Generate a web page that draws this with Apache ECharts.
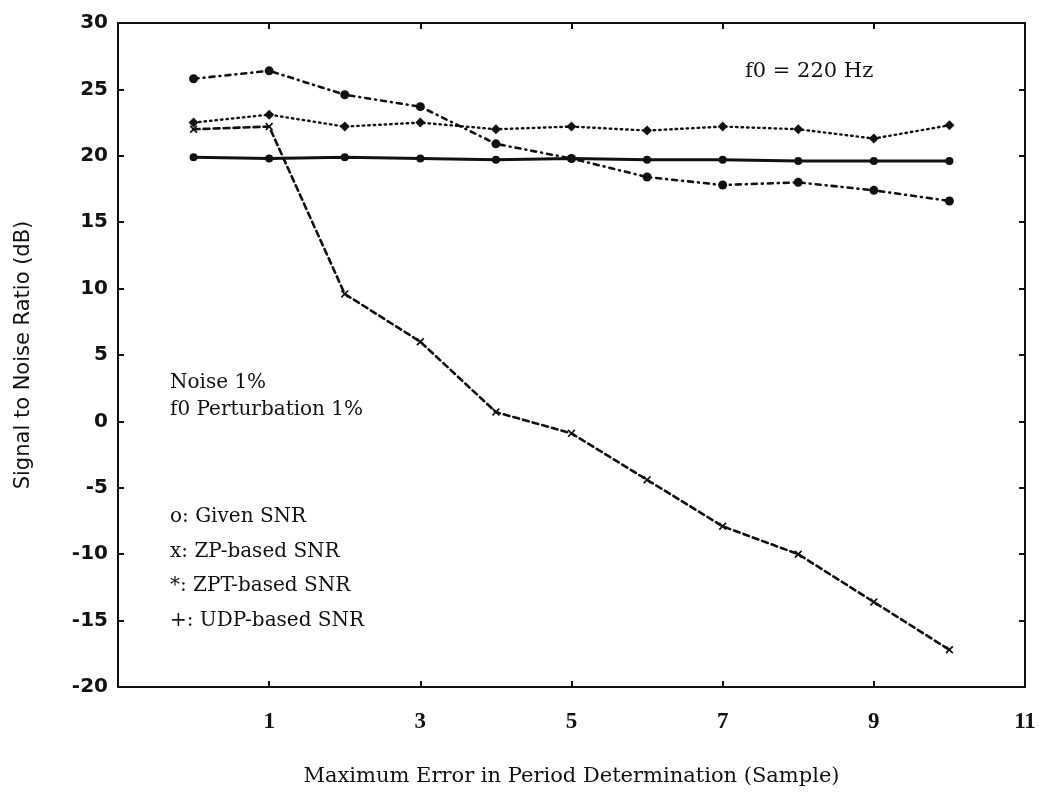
<!DOCTYPE html>
<html>
<head>
<meta charset="utf-8">
<script src="https://cdn.jsdelivr.net/npm/echarts@6/dist/echarts.min.js"></script>
<style>
  html, body { margin: 0; padding: 0; background: #fff; }
  #chart { width: 1039px; height: 792px; }
</style>
</head>
<body>
<div id="chart"></div>
<script>
// Maximum error in period determination (samples)
const errorSamples = [0, 1, 2, 3, 4, 5, 6, 7, 8, 9, 10];

// SNR estimates in dB
const givenSNR = [19.9, 19.8, 19.9, 19.8, 19.7, 19.8, 19.7, 19.7, 19.6, 19.6, 19.6];
const zpSNR    = [22.0, 22.2, 9.6, 6.0, 0.7, -0.9, -4.4, -7.9, -10.0, -13.6, -17.2];
const zptSNR   = [25.8, 26.4, 24.6, 23.7, 20.9, 19.8, 18.4, 17.8, 18.0, 17.4, 16.6];
const udpSNR   = [22.5, 23.1, 22.2, 22.5, 22.0, 22.2, 21.9, 22.2, 22.0, 21.3, 22.3];

// Axis ranges and tick spacing
const xRange = { min: -1, max: 11, interval: 2 };
const yRange = { min: -20, max: 30, interval: 5 };

// Annotation texts
const titleNote = 'f0 = 220 Hz';
const conditionNotes = ['Noise 1%', 'f0 Perturbation 1%'];
const keyNotes = ['o: Given SNR', 'x: ZP-based SNR', '*: ZPT-based SNR', '+: UDP-based SNR'];

const INK = '#111';
const pairs = ys => errorSamples.map((x, i) => [x, ys[i]]);
const crossPath = 'path://M0 1.5 L1.5 0 L5 3.5 L8.5 0 L10 1.5 L6.5 5 L10 8.5 L8.5 10 L5 6.5 L1.5 10 L0 8.5 L3.5 5 Z';

const chart = echarts.init(document.getElementById('chart'), null, { renderer: 'canvas' });

const serif = '"DejaVu Serif", "Liberation Serif", serif';
const sans = '"DejaVu Sans", "Open Sans", sans-serif';

const frameAxis = {
  axisLine: { show: true, onZero: false, lineStyle: { color: INK, width: 2 } },
  axisTick: { show: true, inside: true, length: 6, lineStyle: { color: INK, width: 2 } },
  splitLine: { show: false }
};

function lineSeries(name, ys, dash, symbol, size, width) {
  return {
    name, type: 'line', data: pairs(ys),
    xAxisIndex: 0, yAxisIndex: 0,
    symbol, symbolSize: size, showSymbol: true,
    itemStyle: { color: INK },
    lineStyle: { color: INK, width: width, type: dash, cap: 'round' },
    animation: false, z: 3
  };
}

const textLines = [];
textLines.push({
  type: 'text', left: 745, top: 61,
  style: { text: titleNote, font: '21px ' + serif, fill: INK }
});
conditionNotes.forEach((t, i) => textLines.push({
  type: 'text', left: 170, top: 373 + i * 27,
  style: { text: t, font: '20px ' + serif, fill: INK }
}));
keyNotes.forEach((t, i) => textLines.push({
  type: 'text', left: 170, top: 507 + i * 34.5,
  style: { text: t, font: '20px ' + serif, fill: INK }
}));

chart.setOption({
  backgroundColor: '#fff',
  animation: false,
  grid: { left: 118, right: 14, top: 23, bottom: 96, containLabel: false },
  xAxis: [
    Object.assign({
      type: 'value', position: 'bottom',
      min: xRange.min, max: xRange.max, interval: xRange.interval,
      name: 'Maximum Error in Period Determination (Sample)',
      nameLocation: 'middle', nameGap: 79,
      nameTextStyle: { fontFamily: serif, fontSize: 21, color: INK },
      axisLabel: {
        show: true, margin: 24, color: INK,
        fontFamily: '"Liberation Serif", serif', fontWeight: 'bold', fontSize: 23,
        formatter: v => (v === xRange.min ? '' : String(v))
      }
    }, frameAxis),
    Object.assign({
      type: 'value', position: 'top',
      min: xRange.min, max: xRange.max, interval: xRange.interval,
      axisLabel: { show: false }
    }, frameAxis)
  ],
  yAxis: [
    Object.assign({
      type: 'value', position: 'left',
      min: yRange.min, max: yRange.max, interval: yRange.interval,
      name: 'Signal to Noise Ratio (dB)',
      nameLocation: 'middle', nameGap: 84, nameRotate: 90,
      nameTextStyle: { fontFamily: sans, fontSize: 21, color: INK },
      axisLabel: {
        show: true, margin: 10, color: INK,
        fontFamily: sans, fontWeight: 'bold', fontSize: 20
      }
    }, frameAxis),
    Object.assign({
      type: 'value', position: 'right',
      min: yRange.min, max: yRange.max, interval: yRange.interval,
      axisLabel: { show: false }
    }, frameAxis)
  ],
  series: [
    lineSeries('Given SNR', givenSNR, 'solid', 'circle', 8, 3),
    lineSeries('ZP-based SNR', zpSNR, [6, 4], crossPath, 8, 2.6),
    lineSeries('ZPT-based SNR', zptSNR, [5, 5, 1, 5], 'circle', 9, 2.6),
    lineSeries('UDP-based SNR', udpSNR, [1.5, 4], 'diamond', 10, 2.4)
  ],
  graphic: textLines
});
</script>
</body>
</html>
